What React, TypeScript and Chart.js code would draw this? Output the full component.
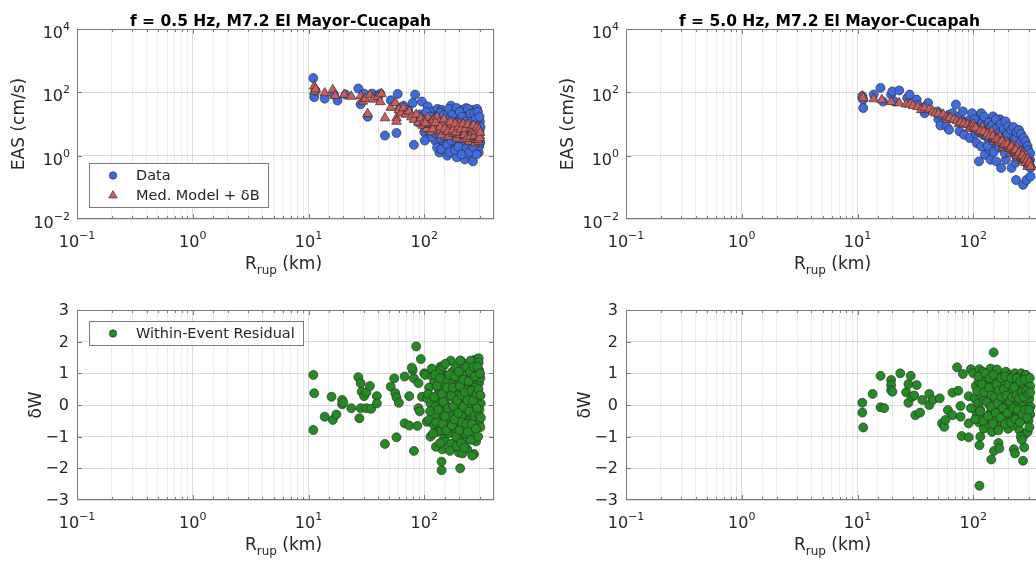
import React, { useEffect, useRef } from 'react';
import { Chart, registerables } from 'chart.js';

Chart.register(...registerables);

const FONT = '"DejaVu Sans", "Liberation Sans", Arial, sans-serif';
const TEXT = '#262626';
const FRAME = '#7a7a7a';
const GRID_MAJOR = 'rgba(0,0,0,0.14)';
const GRID_MINOR = 'rgba(0,0,0,0.08)';
const BLUE = '#3f6be0';
const RED = '#cd5c5c';
const GREEN = '#228b22';
const EDGE = '#303030';

// ---- axis ticks / labels ----
const xTickValues = [0.1, 1, 10, 100];
const xTickExponents = ['−1', '0', '1', '2'];
const easTickValues = [0.01, 1, 100, 10000];
const easTickExponents = ['−2', '0', '2', '4'];
const residTickValues = [-3, -2, -1, 0, 1, 2, 3];
const residTickLabels = ['−3', '−2', '−1', '0', '1', '2', '3'];

const titleLow = 'f = 0.5 Hz, M7.2 El Mayor-Cucapah';
const titleHigh = 'f = 5.0 Hz, M7.2 El Mayor-Cucapah';
const legendData = 'Data';
const legendModel = 'Med. Model + δB';
const legendResid = 'Within-Event Residual';

type Pt = [number, number];

// ---- f = 0.5 Hz : [Rrup km, EAS cm/s] ----
const dataLow: Pt[] = [
  [11.0, 282], [11.2, 71], [11.5, 112], [13.8, 63], [16.6, 85], [17.8, 55], [20.9, 85], [26.9, 132],
  [28.2, 42], [30.2, 91], [32.4, 17], [35.5, 91], [39.8, 79], [41.7, 91], [45.7, 4.3], [51.3, 56],
  [57.5, 5.2], [58.9, 89], [61.7, 32], [66.1, 38], [72.4, 28], [79.4, 46], [81.3, 2.2], [83.2, 85],
  [85.1, 18], [89.1, 11], [92, 20], [95.5, 51], [96, 17], [98, 13], [100, 5.6], [102, 11], [103, 16],
  [105, 8.9], [107, 36], [108, 19], [110, 22], [112, 4.0], [113, 8], [115, 14], [118, 9], [120, 25],
  [123, 12], [126, 2.8], [126, 7.1], [130, 30], [132, 20], [135, 1.26], [136, 6], [138, 3.5], [141, 28],
  [143, 14], [145, 10], [148, 2.0], [151, 5.0], [152, 9], [155, 16], [158, 1.0], [160, 12], [162, 2.8],
  [166, 22], [168, 4.5], [170, 38], [170, 7.1], [174, 1.6], [176, 9], [178, 12.6], [182, 4.0], [186, 25],
  [188, 5.6], [191, 0.89], [191, 2.2], [195, 8.9], [198, 13], [200, 18], [204, 3.2], [206, 10], [209, 28],
  [209, 1.4], [214, 6.3], [216, 3.2], [219, 14], [224, 0.76], [224, 2.5], [226, 9], [229, 22], [230, 32],
  [234, 5.0], [236, 15], [240, 1.12], [240, 11], [245, 25], [248, 4.5], [251, 2.0], [251, 7.9], [257, 18],
  [260, 10], [263, 0.66], [263, 3.5], [265, 28], [269, 14], [272, 3.0], [275, 1.6], [275, 6.3], [280, 8],
  [282, 20], [285, 30], [288, 2.5], [288, 11], [292, 16], [295, 4.5], [295, 1.26], [298, 2.0], [300, 6],
  [302, 12],
  [101, 3.0], [104, 24], [109, 6.5], [114, 17], [117, 3.8], [119, 10.5], [124, 5.2], [127, 15], [129, 1.8],
  [133, 9.5], [137, 23], [140, 1.6], [142, 7.5], [147, 19], [149, 4.0], [154, 12], [157, 2.2], [159, 7],
  [163, 30], [165, 1.3], [167, 16], [172, 3.0], [175, 20], [180, 7.5], [184, 1.5], [187, 11], [190, 32],
  [193, 4.2], [197, 1.9], [202, 24], [207, 5.8], [211, 1.1], [213, 17], [218, 9.5], [222, 4.0], [228, 12],
  [232, 1.8], [238, 30], [242, 6.8], [246, 1.3], [250, 21], [255, 4.8], [258, 12], [262, 1.9], [267, 8.5],
  [270, 22], [274, 3.8], [278, 15], [283, 1.1], [286, 5.5], [290, 24], [294, 9], [297, 3.3], [300, 17],
  [304, 2.6], [306, 8],
];

const modelLow: Pt[] = [
  [11.2, 155], [11.2, 107], [11.5, 126], [13.8, 95], [16.2, 120], [17.0, 78], [20.4, 85], [23.4, 74],
  [28.2, 76], [29.5, 52], [30.9, 63], [32.4, 21], [33.9, 83], [36.3, 60], [39.8, 72], [41.7, 50],
  [42.7, 89], [45.7, 15.5], [51.3, 33], [56.2, 47], [57.5, 15.5], [57.5, 12], [60.3, 28], [63.1, 22],
  [66.1, 32], [69.2, 20], [74.1, 25], [77.6, 16.6], [81.3, 13.8], [85.1, 20], [89.1, 11.2], [93.3, 15.1],
  [97.7, 8.9], [100, 12.6], [105, 7.1], [107, 15.8], [110, 9.5], [112, 10], [115, 5.6], [120, 13.2],
  [123, 7.9], [129, 16.6], [132, 6.3], [135, 11.2], [139, 9.0], [141, 4.5], [145, 8.9], [148, 14.1],
  [155, 6.0], [158, 10], [162, 4.0], [166, 7.6], [170, 9], [174, 12], [178, 5.0], [182, 8.3], [191, 3.5],
  [195, 6.6], [200, 10.5], [204, 4.5], [210, 5.5], [214, 7.9], [219, 3.2], [224, 5.6], [229, 9.5],
  [234, 4.0], [240, 7.1], [245, 2.8], [245, 6.5], [251, 5.2], [257, 8.3], [263, 3.5], [269, 6.3],
  [275, 2.5], [280, 3.2], [282, 4.8], [288, 3.8], [295, 5.6], [295, 2.8], [302, 4.2],
  [102, 10.8], [118, 7], [125, 11], [137, 8], [150, 7], [160, 5.8], [168, 11.5], [176, 6.5], [185, 10],
  [188, 5.5], [198, 8], [207, 6.8], [216, 10], [221, 4.5], [226, 7], [232, 3.5], [238, 9.5], [248, 4],
  [254, 7.5], [260, 5.5], [266, 9], [272, 4.2], [278, 6], [285, 7.8], [290, 3.2], [298, 6.8], [300, 3.6],
  [304, 5.4],
];

// ---- f = 5.0 Hz : [Rrup km, EAS cm/s] ----
const dataHigh: Pt[] = [
  [11.0, 76], [11.2, 59], [11.2, 32], [13.8, 85], [15.8, 138], [16.6, 51], [19.5, 85], [20.0, 107],
  [20.9, 51], [22.9, 115], [26.9, 66], [28.2, 85], [32.4, 59], [33.1, 41], [38.0, 22], [38.9, 36],
  [40.7, 46], [49.0, 25], [50, 14], [51.3, 19.5], [52, 9], [58.9, 8.3], [58.9, 17.4], [61.7, 19.5],
  [61.7, 6.6], [66.1, 22], [70.8, 41], [75.9, 17.4], [75.9, 5.9], [81.3, 25], [83.2, 12], [83.2, 4.6],
  [87.1, 10.7], [93.3, 13.8], [93.3, 3.6], [97.7, 22], [100, 7], [105, 5], [107, 10.7], [107, 2.5],
  [110, 15], [112, 0.66], [117, 22], [117, 1.95], [120, 8.5], [122, 4.5], [126, 1.07], [129, 12],
  [132, 9.5], [135, 3.2], [138, 6.6], [138, 1.55], [141, 0.74], [145, 5.5], [148, 17.4], [152, 12],
  [158, 4.1], [158, 0.66], [160, 2.3], [162, 8.5], [165, 3.0], [170, 7.5], [170, 14], [174, 0.41],
  [175, 1.8], [180, 10], [182, 5.1], [185, 9], [191, 2.8], [191, 0.74], [195, 1.5], [204, 3.6],
  [206, 6], [214, 0.41], [219, 4.6], [220, 1.2], [225, 2.0], [230, 6.5], [234, 2.5], [234, 0.17],
  [240, 4.0], [250, 0.9], [251, 1.95], [257, 2.8], [260, 1.0], [269, 1.55], [269, 0.12], [275, 0.74],
  [280, 2.2], [288, 1.35], [288, 0.17], [296, 0.5], [300, 1.0], [309, 0.74], [312, 0.41], [312, 0.22],
  [102, 14], [108, 8], [114, 5.5], [119, 11], [124, 17], [128, 6.8], [133, 2.0], [136, 11], [140, 8],
  [143, 3.8], [147, 9.5], [150, 1.3], [155, 7], [157, 14], [163, 5.0], [167, 1.8], [172, 10], [177, 3.5],
  [183, 7], [187, 1.2], [190, 12], [197, 4.8], [200, 8.5], [209, 2.4], [212, 6.5], [217, 1.6], [222, 8],
  [227, 3.2], [232, 0.6], [237, 5.5], [243, 1.5], [248, 6.5], [254, 2.6], [259, 4.8], [265, 1.4],
  [272, 3.6], [277, 0.9], [283, 2.8], [291, 0.85], [294, 2.0], [298, 1.5], [305, 0.6], [310, 1.2],
];

const modelHigh: Pt[] = [
  [11.0, 76], [11.2, 66], [13.8, 62], [16.2, 58], [19.5, 50], [22.9, 46], [26.3, 42], [28.2, 42],
  [30.2, 38], [33.1, 35], [35.5, 28], [38.0, 32], [41.7, 29], [44.7, 25], [47, 22], [50.1, 21],
  [55.0, 20], [58.9, 16.6], [60, 14], [63.1, 15.8], [67.6, 13.8], [72.4, 12.6], [75, 10], [77.6, 11.2],
  [83.2, 10.5], [89.1, 9.5], [92, 7.2], [95.5, 8.5], [100, 10], [102, 7.9], [110, 6.9], [112, 5.6],
  [117, 6.3], [120, 8], [126, 5.5], [130, 4.2], [135, 5.0], [141, 4.4], [145, 5.8], [150, 2.8],
  [151, 3.8], [158, 3.5], [166, 3.0], [170, 4.0], [174, 2.75], [180, 1.8], [182, 2.4], [191, 2.1],
  [195, 2.8], [200, 1.9], [209, 1.66], [210, 1.2], [215, 2.2], [219, 1.5], [229, 1.26], [235, 1.9],
  [240, 1.12], [245, 0.85], [251, 1.0], [255, 1.4], [263, 0.89], [265, 0.7], [270, 1.2], [275, 0.76],
  [285, 1.0], [288, 0.66], [295, 0.45], [300, 0.8], [302, 0.56], [316, 0.5],
  [105, 7.5], [115, 6], [123, 5.8], [132, 4.8], [138, 4.0], [148, 4.2], [155, 3.2], [162, 3.3],
  [168, 2.6], [178, 2.9], [186, 2.2], [198, 2.3], [205, 1.7], [213, 1.9], [224, 1.4], [232, 1.5],
  [238, 1.0], [248, 1.2], [258, 0.95], [268, 1.0], [278, 0.8], [282, 0.6], [292, 0.75], [298, 0.55],
  [306, 0.62], [312, 0.45],
];

// ---- within-event residuals : [Rrup km, dW] ----
const residLow: Pt[] = [
  [11.0, 0.95], [11.0, -0.79], [11.2, 0.37], [13.8, -0.37], [15.8, 0.26], [16.2, -0.47], [17.4, -0.30],
  [19.5, 0.16], [19.5, 0.02], [20.0, 0.08], [23.4, -0.10], [26.9, 0.88], [27.5, -0.42], [28.2, 0.69],
  [28.8, 0.42], [30.2, 0.28], [28.2, -0.10], [31.6, -0.10], [31.6, 0.40], [33.9, 0.60], [34.7, -0.12],
  [38.9, 0.28], [38.9, 0.05], [45.7, -1.23], [51.3, 0.58], [55.0, 0.84], [56.2, 0.37], [57.5, 0.24],
  [60.3, 0.07], [57.5, -1.02], [67.6, 0.90], [67.6, -0.58], [74.1, 0.28], [74.1, -0.65], [79.4, 1.10],
  [78, 1.18], [81.3, 0.84], [81.3, -1.45], [85.1, 1.85], [89.1, 0.69], [89.1, -0.10], [91.2, -0.20],
  [87.1, -0.66], [93.3, 1.45], [100, 1.00], [102, 0.95], [95.5, 0.26], [105, -0.53],
  [117, 0.90], [130, 1.05], [138, 1.21], [143, 1.00], [158, 0.90], [169, 1.40], [175, 1.05], [206, 1.40],
  [220, 1.30], [235, 1.00], [251, 1.15], [269, 1.42], [287, 1.45], [297, 1.10], [213, 0.95], [187, 1.20],
  [260, 0.95], [121, 0.69], [134, 0.47], [148, 0.60], [163, 0.40], [180, 0.69], [199, 0.45], [220, 0.69],
  [243, 0.60], [269, 0.75], [287, 0.47], [297, 0.69], [110, 0.55], [153, 0.80], [193, 0.85], [227, 0.50],
  [277, 0.55], [305, 0.85], [113, 0.05], [125, -0.05], [138, 0.16], [153, 0.00], [169, -0.08], [187, 0.12],
  [206, 0.00], [227, 0.05], [251, -0.05], [277, 0.05], [307, 0.05], [130, 0.30], [160, 0.25], [195, 0.30],
  [240, 0.28], [290, 0.25], [106, 0.21], [145, -0.20], [175, -0.25], [215, -0.20], [260, -0.22],
  [300, -0.15], [110, -0.47], [121, -0.63], [134, -0.40], [148, -0.55], [158, -0.47], [180, -0.70],
  [199, -0.50], [220, -0.63], [243, -0.45], [269, -0.70], [297, -0.55], [125, -0.30], [165, -0.35],
  [210, -0.35], [255, -0.35], [305, -0.70], [113, -1.00], [130, -0.85], [148, -1.05], [163, -0.90],
  [180, -1.21], [206, -1.00], [235, -1.10], [269, -0.90], [140, -0.80], [190, -0.85], [225, -0.90],
  [280, -1.15], [143, -1.40], [175, -1.35], [199, -1.50], [235, -1.40], [269, -1.55], [141, -2.06],
  [141, -1.79], [204, -2.00], [260, -1.60], [126, -1.32], [151, -1.16], [170, -1.23], [191, -1.30],
  [214, -1.53], [295, 1.48], [295, 1.34], [138, 1.11], [145, 1.21], [204, 1.40], [251, 1.40],
  [108, 0.35], [112, -0.20], [116, 1.15], [119, -0.90], [122, 0.25], [124, 0.95], [127, -0.55], [128, 0.60],
  [132, -0.15], [136, 0.85], [137, -1.20], [142, 0.35], [144, -0.60], [146, 0.10], [150, -0.35], [152, 1.30],
  [155, -0.80], [157, 0.55], [161, -0.10], [164, 0.95], [166, -1.45], [171, 0.30], [173, -0.65], [177, 0.55],
  [178, -0.05], [183, -0.45], [185, 0.90], [189, -1.00], [192, 0.15], [196, -0.25], [198, 1.05], [201, -0.80],
  [203, 0.60], [208, -1.20], [211, 0.30], [212, -0.55], [217, 0.80], [218, -0.05], [222, -1.35], [224, 0.40],
  [230, -0.60], [232, 1.20], [236, 0.15], [238, -0.85], [241, 0.75], [246, -0.20], [248, 1.05], [253, -1.10],
  [256, 0.45], [258, -0.60], [264, 0.15], [266, 1.20], [271, -0.35], [273, 0.90], [279, -0.75], [282, 0.35],
  [284, -0.10], [289, 1.20], [292, -1.00], [294, 0.50], [299, -0.35], [303, 1.00], [306, 0.30], [308, -0.40],
];

const residHigh: Pt[] = [
  [11.0, 0.07], [11.0, -0.24], [11.2, -0.71], [13.5, 0.35], [15.8, 0.92], [15.8, -0.07], [17.0, -0.10],
  [19.5, 0.79], [19.5, 0.63], [19.5, 0.47], [20.0, 0.42], [23.4, 1.00], [26.3, 0.40], [27.5, 0.66],
  [28.8, 0.92], [27.5, 0.07], [29.5, 0.26], [30.9, 0.30], [31.6, -0.32], [34.7, -0.24], [32.4, 0.63],
  [36.3, 0.16], [41.7, 0.35], [41.7, 0.00], [44.7, 0.16], [51.3, 0.21], [53.7, -0.58], [56.2, -0.69],
  [57.5, -0.47], [60.3, -0.16], [66.1, 0.39], [66.1, -0.32], [72.4, 1.19], [74.1, 0.45], [77.6, -0.37],
  [79.4, -0.98], [81.3, 0.98], [77.6, -0.03], [91.2, 0.28], [91.2, -0.58], [91.2, -1.02], [95.5, 1.13],
  [95.5, -0.10],
  [100, 1.0], [113, 1.13], [121, 1.05], [130, 0.95], [141, 1.15], [150, 1.66], [158, 1.10], [166, 1.0],
  [175, 0.95], [191, 1.05], [209, 0.95], [229, 1.0], [245, 0.90], [260, 1.0], [282, 0.95],
  [105, 0.60], [112, 0.75], [118, 0.55], [126, 0.85], [135, 0.65], [145, 0.75], [152, 0.50], [162, 0.80],
  [170, 0.60], [182, 0.70], [195, 0.55], [204, 0.80], [219, 0.60], [234, 0.70], [251, 0.55], [269, 0.65],
  [288, 0.75], [302, 0.55], [310, 0.60],
  [103, 0.20], [110, 0.05], [117, 0.30], [124, 0.15], [132, 0.40], [138, 0.00], [145, 0.25], [155, 0.10],
  [160, 0.35], [168, 0.20], [178, 0.00], [186, 0.30], [195, 0.15], [204, 0.40], [214, 0.05], [224, 0.25],
  [234, 0.10], [245, 0.35], [257, 0.15], [269, 0.00], [282, 0.30], [295, 0.15], [305, 0.20], [312, -0.05],
  [150, 0.45], [200, 0.45],
  [107, -0.30], [115, -0.15], [129, -0.40], [140, -0.25], [148, -0.10], [158, -0.45], [170, -0.20],
  [182, -0.35], [191, -0.10], [204, -0.30], [219, -0.45], [229, -0.15], [240, -0.35], [257, -0.25],
  [275, -0.40], [290, -0.20], [300, -0.50], [310, -0.30],
  [112, -0.55], [123, -0.75], [135, -0.60], [145, -0.85], [162, -0.70], [178, -0.55], [200, -0.75],
  [224, -0.65], [251, -0.80], [275, -0.95], [295, -0.85], [305, -0.70],
  [113, -2.55], [143, -1.72], [151, -1.45], [165, -1.20], [168, -1.37], [224, -1.40], [229, -1.53],
  [269, -1.76], [275, -1.34], [115, -1.0], [113, -1.27], [257, -1.0], [263, -1.10], [285, 0.95], [160, 1.12],
  [104, -0.45], [108, 0.45], [111, 0.90], [114, -0.20], [119, 0.65], [122, -0.50], [125, 0.40], [128, 1.00],
  [131, 0.10], [134, -0.35], [137, 0.55], [139, 0.85], [142, -0.05], [144, 0.30], [147, -0.60], [149, 0.95],
  [153, 0.25], [156, -0.25], [159, 0.65], [163, 0.05], [165, -0.80], [167, 0.45], [172, -0.40], [174, 0.85],
  [176, 0.25], [180, -0.10], [184, 0.50], [188, -0.60], [189, 0.90], [193, 0.30], [197, -0.25], [202, 0.65],
  [207, 0.10], [211, -0.55], [213, 0.85], [217, 0.25], [221, -0.10], [226, 0.55], [231, -0.45], [236, 0.30],
  [238, 0.85], [243, -0.15], [248, 0.20], [253, -0.55], [255, 0.75], [262, 0.40], [266, -0.30], [272, 0.25],
  [278, 0.80], [280, -0.15], [286, 0.45], [292, -0.40], [298, 0.35], [304, -0.15], [308, 0.85], [311, 0.40],
];

// ---------------------------------------------------------------------------

const isPow10 = (v: number) => v > 0 && Math.abs(Math.log10(v) - Math.round(Math.log10(v))) < 1e-6;
const toXY = (arr: Pt[]) => arr.map(([x, y]) => ({ x, y }));

function drawPow(ctx: CanvasRenderingContext2D, base: string, exp: string, x: number, y: number, align: 'center' | 'right') {
  ctx.font = `16px ${FONT}`;
  const wb = ctx.measureText(base).width;
  ctx.font = `11px ${FONT}`;
  const we = ctx.measureText(exp).width;
  const total = wb + we;
  const sx = align === 'center' ? x - total / 2 : x - total;
  ctx.textAlign = 'left';
  ctx.textBaseline = 'alphabetic';
  ctx.font = `16px ${FONT}`;
  ctx.fillText(base, sx, y);
  ctx.font = `11px ${FONT}`;
  ctx.fillText(exp, sx + wb, y - 8);
}

function drawMarker(ctx: CanvasRenderingContext2D, style: string, color: string, x: number, y: number) {
  ctx.beginPath();
  if (style === 'triangle') {
    const r = 4.8;
    ctx.moveTo(x, y - r);
    ctx.lineTo(x + r * 0.866, y + r * 0.5);
    ctx.lineTo(x - r * 0.866, y + r * 0.5);
    ctx.closePath();
  } else {
    ctx.arc(x, y, 3.7, 0, Math.PI * 2);
  }
  ctx.fillStyle = color;
  ctx.fill();
  ctx.lineWidth = 0.7;
  ctx.strokeStyle = EDGE;
  ctx.stroke();
}

const decorPlugin = {
  id: 'decor',
  afterDraw(chart: any, _args: any, o: any) {
    const { ctx, chartArea: a } = chart;
    const xs = chart.scales.x;
    const ys = chart.scales.y;
    const L = Math.round(a.left);
    const R = Math.round(a.right);
    const T = Math.round(a.top);
    const B = Math.round(a.bottom);
    ctx.save();

    // inner tick marks
    ctx.strokeStyle = FRAME;
    ctx.lineWidth = 1;
    ctx.beginPath();
    for (const t of xs.ticks) {
      const v = t.value;
      if (v <= xs.min * 1.0001 || v >= xs.max * 0.9999) continue;
      const px = Math.round(xs.getPixelForValue(v)) + 0.5;
      const len = isPow10(v) ? 5 : 3;
      ctx.moveTo(px, B); ctx.lineTo(px, B - len);
      ctx.moveTo(px, T); ctx.lineTo(px, T + len);
    }
    for (const v of o.yTickValues as number[]) {
      const py = Math.round(ys.getPixelForValue(v)) + 0.5;
      if (py <= T + 1 || py >= B - 1) continue;
      ctx.moveTo(L, py); ctx.lineTo(L + 5, py);
      ctx.moveTo(R, py); ctx.lineTo(R - 5, py);
    }
    ctx.stroke();
    ctx.strokeRect(L + 0.5, T + 0.5, R - L - 1, B - T - 1);

    ctx.fillStyle = TEXT;
    // x tick labels
    xTickValues.forEach((v, i) => {
      drawPow(ctx, '10', xTickExponents[i], xs.getPixelForValue(v), B + 28, 'center');
    });
    // y tick labels
    if (o.yLog) {
      (o.yTickValues as number[]).forEach((v, i) => {
        drawPow(ctx, '10', o.yTickLabels[i], L - 7, ys.getPixelForValue(v) + 9, 'right');
      });
    } else {
      ctx.font = `16px ${FONT}`;
      ctx.textAlign = 'right';
      ctx.textBaseline = 'middle';
      (o.yTickValues as number[]).forEach((v, i) => {
        ctx.fillText(o.yTickLabels[i], L - 8, ys.getPixelForValue(v) + 1);
      });
    }

    // x axis label R_rup (km)
    {
      const big = `17px ${FONT}`;
      const small = `12px ${FONT}`;
      ctx.font = big;
      const w1 = ctx.measureText('R').width;
      const w3 = ctx.measureText(' (km)').width;
      ctx.font = small;
      const w2 = ctx.measureText('rup').width;
      const total = w1 + w2 + w3;
      let sx = (L + R) / 2 - 2 - total / 2;
      const by = B + 50;
      ctx.textAlign = 'left';
      ctx.textBaseline = 'alphabetic';
      ctx.font = big; ctx.fillText('R', sx, by); sx += w1;
      ctx.font = small; ctx.fillText('rup', sx, by + 5); sx += w2;
      ctx.font = big; ctx.fillText(' (km)', sx, by);
    }

    // y axis label
    ctx.save();
    ctx.translate(L - o.yLabelGap, (T + B) / 2);
    ctx.rotate(-Math.PI / 2);
    ctx.font = `17px ${FONT}`;
    ctx.textAlign = 'center';
    ctx.textBaseline = 'alphabetic';
    ctx.fillText(o.yLabel, 0, 0);
    ctx.restore();

    // title
    if (o.title) {
      ctx.font = `bold 15.5px ${FONT}`;
      ctx.textAlign = 'center';
      ctx.textBaseline = 'alphabetic';
      ctx.fillStyle = '#000';
      ctx.fillText(o.title, (L + R) / 2 - 5, T - 3.5);
    }

    // legend
    if (o.legend) {
      const items = o.legend.items as { label: string; style: string; color: string }[];
      ctx.font = `14.5px ${FONT}`;
      const tw = Math.max(...items.map((it) => ctx.measureText(it.label).width));
      const w = Math.round(47 + tw + 8);
      const h = items.length * 20 + 4;
      const x0 = L + 12;
      const y0 = o.legend.anchor === 'bottom' ? B - 12 - h : T + 11;
      ctx.fillStyle = '#fff';
      ctx.fillRect(x0, y0, w, h);
      ctx.strokeStyle = FRAME;
      ctx.lineWidth = 1;
      ctx.strokeRect(x0 + 0.5, y0 + 0.5, w, h);
      items.forEach((it, i) => {
        const cy = y0 + 12.5 + i * 20;
        drawMarker(ctx, it.style, it.color, x0 + 24, cy);
        ctx.fillStyle = TEXT;
        ctx.font = `14.5px ${FONT}`;
        ctx.textAlign = 'left';
        ctx.textBaseline = 'middle';
        ctx.fillText(it.label, x0 + 47, cy + 1);
      });
    }
    ctx.restore();
  },
};

interface PanelDef {
  left: number;
  top: number;
  yLog: boolean;
  datasets: any[];
  decor: any;
}

function scatterSet(label: string, pts: Pt[], color: string, style: string, order: number) {
  return {
    type: 'scatter',
    label,
    data: toXY(pts),
    backgroundColor: color,
    borderColor: EDGE,
    borderWidth: 0.7,
    pointStyle: style,
    pointRadius: style === 'triangle' ? 5.6 : 4.5,
    order,
  };
}

function buildConfig(p: PanelDef): any {
  const yScale: any = p.yLog
    ? {
        type: 'logarithmic',
        min: 0.01,
        max: 10000,
        afterBuildTicks: (s: any) => {
          s.ticks = easTickValues.map((v) => ({ value: v }));
        },
      }
    : {
        type: 'linear',
        min: -3,
        max: 3,
        afterBuildTicks: (s: any) => {
          s.ticks = residTickValues.map((v) => ({ value: v }));
        },
      };
  Object.assign(yScale, {
    ticks: { display: false },
    grid: { color: GRID_MAJOR, drawTicks: false, lineWidth: 1 },
    border: { display: false },
    afterFit: (s: any) => {
      s.width = 77;
    },
  });
  return {
    type: 'scatter',
    data: { datasets: p.datasets },
    options: {
      responsive: false,
      animation: false,
      events: [],
      layout: { padding: { left: 0, right: 24, top: 29, bottom: 0 } },
      plugins: {
        legend: { display: false },
        tooltip: { enabled: false },
        title: { display: false },
        decor: p.decor,
      },
      scales: {
        x: {
          type: 'logarithmic',
          min: 0.1,
          max: 400,
          ticks: { display: false, autoSkip: false },
          grid: {
            color: (c: any) => (c.tick && isPow10(c.tick.value) ? GRID_MAJOR : GRID_MINOR),
            drawTicks: false,
            lineWidth: 1,
          },
          border: { display: false },
          afterFit: (s: any) => {
            s.height = 71;
          },
        },
        y: yScale,
      },
    },
    plugins: [decorPlugin],
  };
}

const panels: PanelDef[] = [
  {
    left: 0,
    top: 0,
    yLog: true,
    datasets: [
      scatterSet(legendModel, modelLow, RED, 'triangle', 1),
      scatterSet(legendData, dataLow, BLUE, 'circle', 2),
    ],
    decor: {
      title: titleLow,
      yLog: true,
      yTickValues: easTickValues,
      yTickLabels: easTickExponents,
      yLabel: 'EAS (cm/s)',
      yLabelGap: 53,
      legend: {
        anchor: 'bottom',
        items: [
          { label: legendData, style: 'circle', color: BLUE },
          { label: legendModel, style: 'triangle', color: RED },
        ],
      },
    },
  },
  {
    left: 549,
    top: 0,
    yLog: true,
    datasets: [
      scatterSet(legendModel, modelHigh, RED, 'triangle', 1),
      scatterSet(legendData, dataHigh, BLUE, 'circle', 2),
    ],
    decor: {
      title: titleHigh,
      yLog: true,
      yTickValues: easTickValues,
      yTickLabels: easTickExponents,
      yLabel: 'EAS (cm/s)',
      yLabelGap: 53,
    },
  },
  {
    left: 0,
    top: 281,
    yLog: false,
    datasets: [scatterSet(legendResid, residLow, GREEN, 'circle', 1)],
    decor: {
      yLog: false,
      yTickValues: residTickValues,
      yTickLabels: residTickLabels,
      yLabel: 'δW',
      yLabelGap: 36,
      legend: {
        anchor: 'top',
        items: [{ label: legendResid, style: 'circle', color: GREEN }],
      },
    },
  },
  {
    left: 549,
    top: 281,
    yLog: false,
    datasets: [scatterSet(legendResid, residHigh, GREEN, 'circle', 1)],
    decor: {
      yLog: false,
      yTickValues: residTickValues,
      yTickLabels: residTickLabels,
      yLabel: 'δW',
      yLabelGap: 36,
    },
  },
];

function PanelChart({ panel }: { panel: PanelDef }) {
  const ref = useRef<HTMLCanvasElement>(null);
  useEffect(() => {
    if (!ref.current) return;
    const chart = new Chart(ref.current, buildConfig(panel));
    return () => chart.destroy();
  }, [panel]);
  return (
    <canvas
      ref={ref}
      width={518}
      height={290}
      style={{ position: 'absolute', left: panel.left, top: panel.top, width: 518, height: 290 }}
    />
  );
}

export default function App() {
  return (
    <div
      style={{
        position: 'fixed',
        left: 0,
        top: 0,
        width: 1036,
        height: 563,
        overflow: 'hidden',
        background: '#ffffff',
      }}
    >
      {panels.map((p, i) => (
        <PanelChart key={i} panel={p} />
      ))}
    </div>
  );
}
